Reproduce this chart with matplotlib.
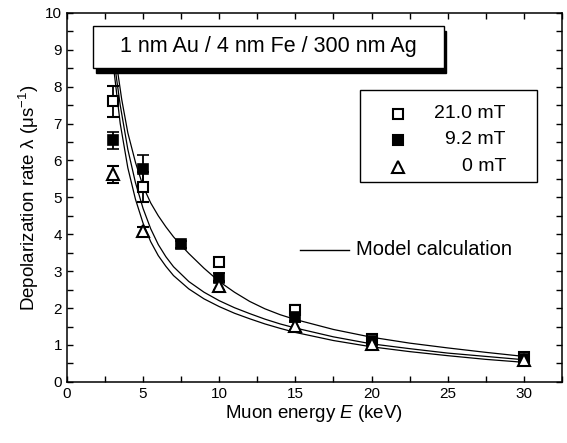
import numpy as np
import matplotlib
matplotlib.use("Agg")
import matplotlib.pyplot as plt
from matplotlib.patches import Rectangle

plt.rcParams['font.family'] = ['Liberation Sans', 'DejaVu Sans']
plt.rcParams['mathtext.fontset'] = 'custom'
plt.rcParams['mathtext.rm'] = 'Liberation Sans'
plt.rcParams['mathtext.it'] = 'Liberation Sans:italic'

E_210 = [3, 5, 10, 15, 20, 30]
lam_210 = [7.6, 5.28, 3.25, 1.95, 1.15, 0.68]
err_210 = [0.41, 0.4, 0.1, 0.12, 0.1, 0.08]

E_92 = [3, 5, 7.5, 10, 15, 20, 30]
lam_92 = [6.55, 5.78, 3.73, 2.82, 1.77, 1.1, 0.63]
err_92 = [0.23, 0.37, 0.1, 0.12, 0.15, 0.1, 0.08]

E_0 = [3, 5, 10, 15, 20, 30]
lam_0 = [5.62, 4.08, 2.6, 1.52, 1.02, 0.58]
err_0 = [0.22, 0.13, 0.12, 0.12, 0.12, 0.12]

# model curves
E_up = [3.3, 3.6, 4, 4.5, 5, 5.5, 6, 6.5, 7, 7.5, 8, 9, 10, 11, 12, 13, 14, 15, 17.5, 20, 22.5, 25, 27.5, 30]
lam_up = [8.5, 7.65, 6.75, 5.95, 5.3, 4.85, 4.5, 4.2, 3.93, 3.7, 3.48, 3.08, 2.72, 2.43, 2.18, 1.98, 1.82, 1.69,
          1.42, 1.21, 1.05, 0.92, 0.8, 0.69]

E_mid = [3.2, 3.5, 4, 4.5, 5, 5.5, 6, 6.5, 7, 8, 9, 10, 11, 12, 13, 14, 15, 17.5, 20, 22.5, 25, 27.5, 30]
lam_mid = [8.4, 7.5, 6.3, 5.4, 4.7, 4.15, 3.72, 3.39, 3.12, 2.72, 2.43, 2.2, 2.01, 1.85, 1.7, 1.57, 1.46,
           1.22, 1.03, 0.9, 0.78, 0.69, 0.6]

E_low = [3.1, 3.5, 4, 4.5, 5, 5.5, 6, 6.5, 7, 8, 9, 10, 11, 12, 13, 14, 15, 17.5, 20, 22.5, 25, 27.5, 30]
lam_low = [8.4, 7.0, 5.8, 4.95, 4.3, 3.8, 3.42, 3.13, 2.88, 2.52, 2.25, 2.04, 1.86, 1.71, 1.57, 1.45, 1.34,
           1.12, 0.95, 0.82, 0.71, 0.61, 0.53]

fig = plt.figure(figsize=(5.67, 4.43), dpi=100)
ax = fig.add_axes([0.118, 0.138, 0.873, 0.833])

for xs, ys in [(E_up, lam_up), (E_mid, lam_mid), (E_low, lam_low)]:
    ax.plot(xs, ys, color='black', lw=0.9, zorder=2)

ebkw = dict(ecolor='black', elinewidth=1.3, capsize=4, capthick=1.3, ls='none', zorder=3)
ax.errorbar(E_210, lam_210, yerr=err_210, marker='s', ms=7, mfc='white', mec='black', mew=1.5, **ebkw)
ax.errorbar(E_92, lam_92, yerr=err_92, marker='s', ms=7, mfc='black', mec='black', mew=1.2, **ebkw)
ax.errorbar(E_0, lam_0, yerr=err_0, marker='^', ms=8, mfc='white', mec='black', mew=1.5, **ebkw)

ax.set_xlim(0, 32.5)
ax.set_ylim(0, 10)
ax.set_xticks([0, 5, 10, 15, 20, 25, 30])
ax.set_xticks(np.arange(0, 32.6, 2.5), minor=True)
ax.set_yticks(range(0, 11))
ax.set_yticks(np.arange(0, 10.01, 0.5), minor=True)
ax.tick_params(which='both', direction='in', top=True, right=True, length=4, width=1, labelsize=11)
ax.tick_params(axis='x', pad=4)
for s in ax.spines.values():
    s.set_linewidth(1.1)

ax.set_xlabel('Muon energy $\\mathit{E}$ (keV)', fontsize=13.5, labelpad=1)
ax.set_ylabel('Depolarization rate \u03bb (\u03bcs$^{-1}$)', fontsize=13.5, labelpad=3)

# sample box with shadow
ax.add_patch(Rectangle((0.058, 0.837), 0.708, 0.114, transform=ax.transAxes,
                       facecolor='black', edgecolor='black', zorder=5))
ax.add_patch(Rectangle((0.0525, 0.851), 0.71, 0.114, transform=ax.transAxes,
                       facecolor='white', edgecolor='black', lw=1, zorder=6))
ax.text(0.408, 0.908, '1 nm Au / 4 nm Fe / 300 nm Ag', transform=ax.transAxes,
        ha='center', va='center', fontsize=15.5, zorder=7)

# field legend
ax.add_patch(Rectangle((0.592, 0.542), 0.357, 0.249, transform=ax.transAxes,
                       facecolor='white', edgecolor='black', lw=1, zorder=6))
leg = [('21.0 mT', 's', 'white', 0.726), ('9.2 mT', 's', 'black', 0.656), ('0 mT', '^', 'white', 0.583)]
for lab, mk, fc, yy in leg:
    ax.plot([0.669], [yy], marker=mk, ms=7 if mk == 's' else 8, mfc=fc, mec='black', mew=1.5,
            transform=ax.transAxes, zorder=7, clip_on=False)
    ax.text(0.887, yy, lab, transform=ax.transAxes, ha='right', va='center', fontsize=14, zorder=7)

# model legend
ax.plot([0.471, 0.570], [0.358, 0.358], color='black', lw=1, transform=ax.transAxes)
ax.text(0.584, 0.358, 'Model calculation', transform=ax.transAxes, ha='left', va='center', fontsize=14.5)

fig.savefig('out.png', dpi=100)
